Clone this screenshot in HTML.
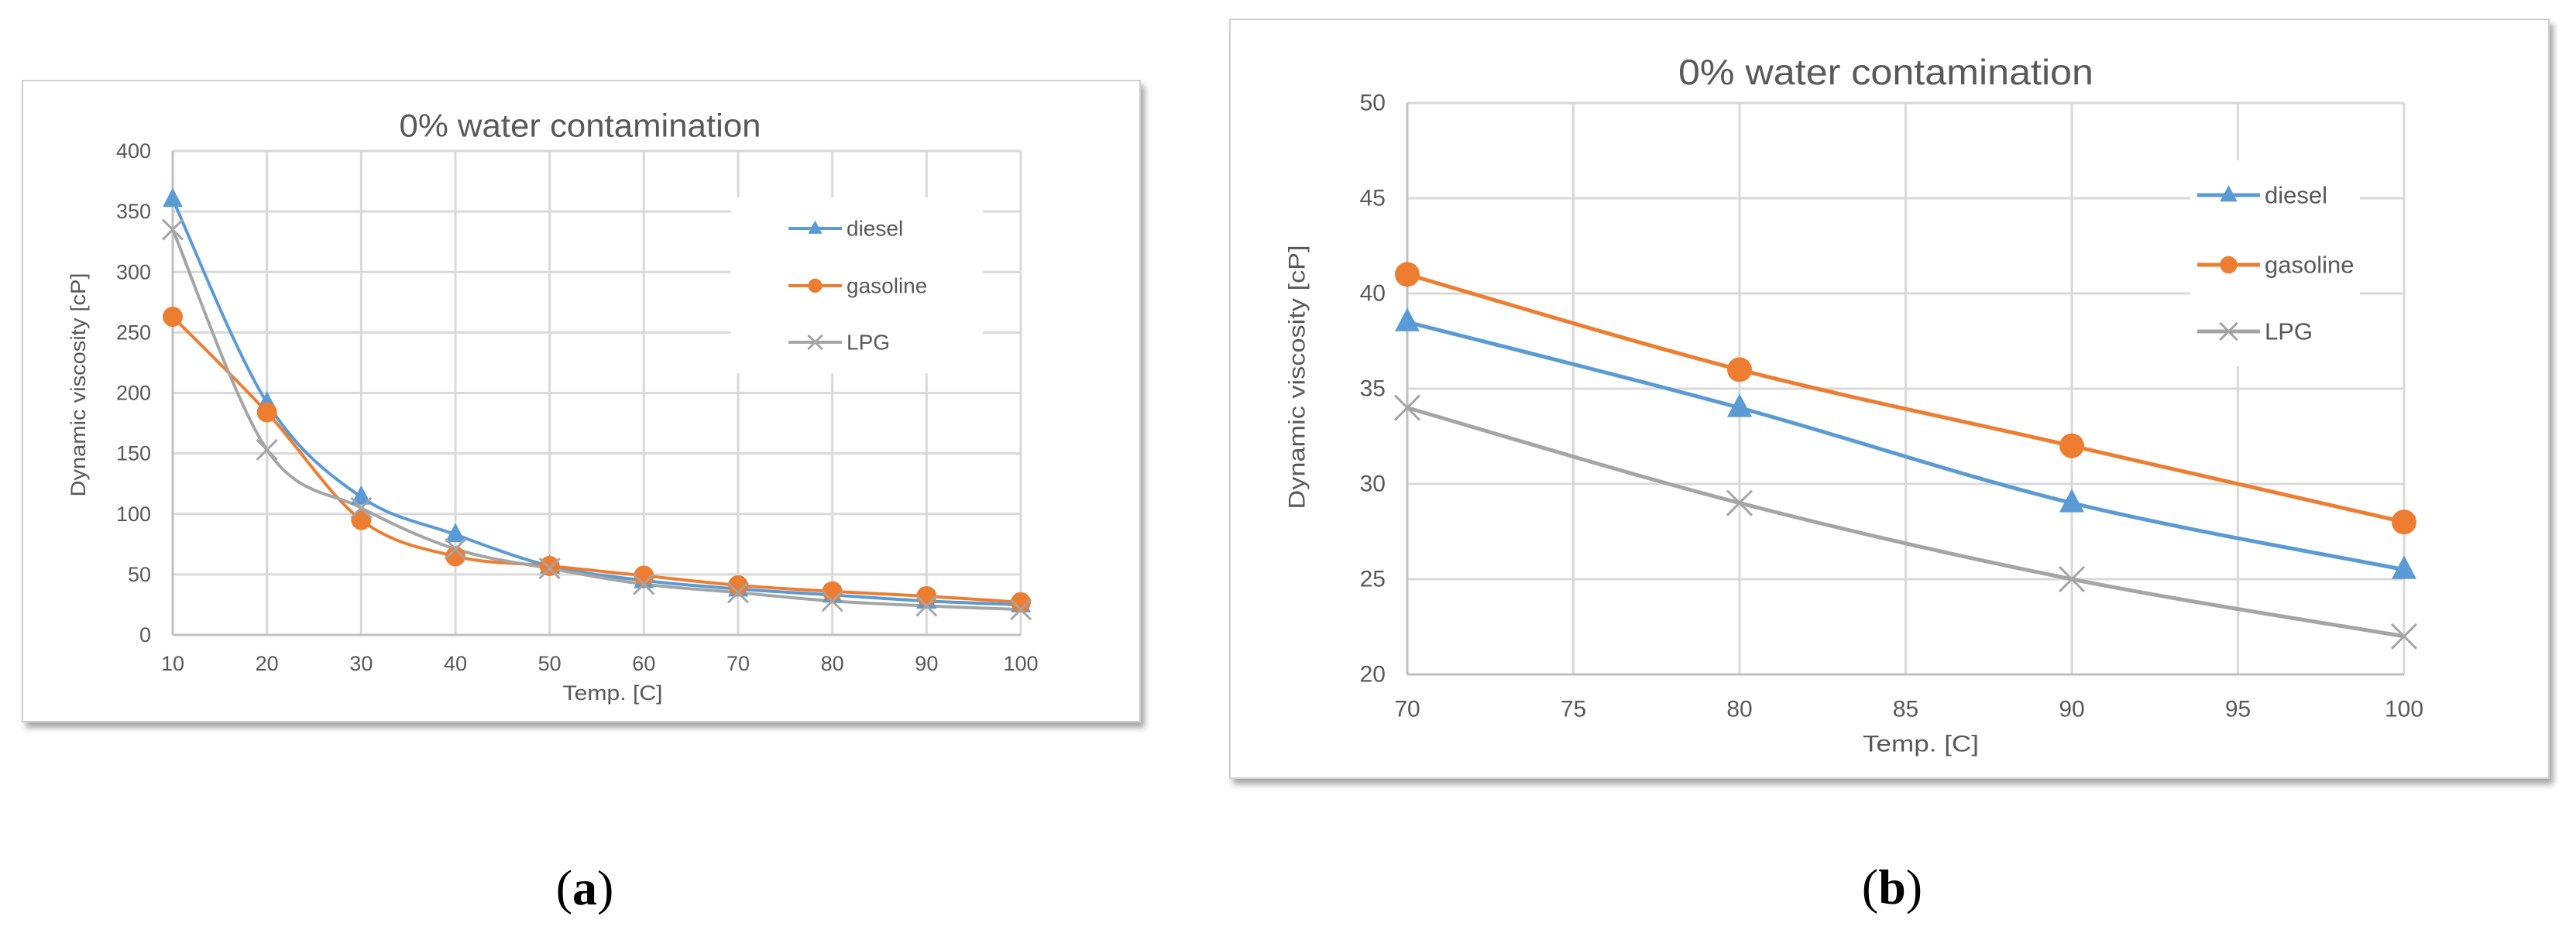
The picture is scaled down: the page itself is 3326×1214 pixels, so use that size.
<!DOCTYPE html>
<html><head><meta charset="utf-8">
<style>
html,body{margin:0;padding:0;background:#fff;}
body{width:3326px;height:1214px;overflow:hidden;position:relative;font-family:"Liberation Sans",sans-serif;}
svg{position:absolute;left:0;top:0;}
</style></head>
<body>
<svg id="fig" width="3326" height="1214" viewBox="0 0 3326 1214" xmlns="http://www.w3.org/2000/svg">
<defs>
<filter id="sh" x="-5%" y="-5%" width="112%" height="115%"><feDropShadow dx="5" dy="7" stdDeviation="4" flood-color="#000" flood-opacity="0.35"/></filter>
</defs>
</svg>
<script>
// ---- Chart (a) data ----
const catsA = [10,20,30,40,50,60,70,80,90,100];
const dieselA = [360,192,114,83,57,45,38,33,28,25];
const gasolineA = [263,184,95,65,57,49,41,36,32,27];
const lpgA = [335,153,105,71,55,42,35,28,24,21];
const yTicksA = [0,50,100,150,200,250,300,350,400];
// ---- Chart (b) data ----
const catsB = [70,80,90,100];
const xTicksB = [70,75,80,85,90,95,100];
const dieselB = [38.5,34,29,25.5];
const gasolineB = [41,36,32,28];
const lpgB = [34,29,25,22];
const yTicksB = [20,25,30,35,40,45,50];

const NS='http://www.w3.org/2000/svg';
const svg=document.getElementById('fig');
function mk(tag,attrs,parent){const e=document.createElementNS(NS,tag);for(const k in attrs)e.setAttribute(k,attrs[k]);(parent||svg).appendChild(e);return e;}
function txt(s,attrs,parent){const e=mk('text',attrs,parent);e.textContent=s;return e;}
const COL={diesel:'#5b9bd5',gasoline:'#ed7d31',lpg:'#a5a5a5'};

function smoothPath(pts){
  let d='M'+pts[0][0]+','+pts[0][1];
  for(let i=0;i<pts.length-1;i++){
    const p0=pts[Math.max(i-1,0)],p1=pts[i],p2=pts[i+1],p3=pts[Math.min(i+2,pts.length-1)];
    const t=1/6;
    const c1=[p1[0]+(p2[0]-p0[0])*t,p1[1]+(p2[1]-p0[1])*t];
    const c2=[p2[0]-(p3[0]-p1[0])*t,p2[1]-(p3[1]-p1[1])*t];
    d+=' C'+c1[0]+','+c1[1]+' '+c2[0]+','+c2[1]+' '+p2[0]+','+p2[1];
  }
  return d;
}
function marker(g,type,x,y,r,color){
  let e;
  if(type==='tri'){e=mk('polygon',{points:(x)+','+(y-r*1.15)+' '+(x-r)+','+(y+r*0.75)+' '+(x+r)+','+(y+r*0.75),fill:color},g);}
  else if(type==='circ'){e=mk('circle',{cx:x,cy:y,r:r,fill:color},g);}
  else {e=mk('path',{d:'M'+(x-r)+','+(y-r)+'L'+(x+r)+','+(y+r)+'M'+(x-r)+','+(y+r)+'L'+(x+r)+','+(y-r),stroke:color,'stroke-width':3,fill:'none'},g);}
  return e;
}

function chart(c){
  const g=mk('g',{});
  
  
  const fr=mk('rect',{x:c.fx,y:c.fy,width:c.fw,height:c.fh,fill:'#fff',stroke:'#d0d0d0','stroke-width':2,filter:'url(#sh)'},g);
  
  
  const X=v=>c.px0+(v-c.xmin)/(c.xmax-c.xmin)*(c.px1-c.px0);
  const Y=v=>c.py0-(v-c.ymin)/(c.ymax-c.ymin)*(c.py0-c.py1);
  // grid
  c.xgrid.forEach(v=>{const l=mk('line',{x1:X(v),x2:X(v),y1:c.py1,y2:c.py0,stroke:'#d9d9d9','stroke-width':3},g);
    });
  c.yticks.forEach(v=>{const l=mk('line',{x1:c.px0,x2:c.px1,y1:Y(v),y2:Y(v),stroke:'#d9d9d9','stroke-width':3},g);
    
    const t=txt(String(v),{x:c.px0-28,y:Y(v),'text-anchor':'end','dominant-baseline':'central','font-size':c.tfs,fill:'#595959'},g);
    });
  const ax=mk('line',{x1:c.px0,x2:c.px1,y1:c.py0,y2:c.py0,stroke:'#bfbfbf','stroke-width':3},g);
  
  const ay=mk('line',{x1:c.px0,x2:c.px0,y1:c.py1,y2:c.py0,stroke:'#bfbfbf','stroke-width':3},g);
  
  c.xticks.forEach(v=>{const t=txt(String(v),{x:X(v),y:c.xty,'text-anchor':'middle','dominant-baseline':'central','font-size':c.tfs,fill:'#595959'},g);
    });
  // legend bg (covers gridlines)
  const lb=mk('rect',{x:c.lx0,y:c.ly0,width:c.lx1-c.lx0,height:c.ly1-c.ly0,fill:'#fff'},g);
  
  // series
  c.series.forEach(s=>{
    const pts=c.cats.map((x,i)=>[X(x),Y(s.vals[i])]);
    const p=mk('path',{d:smoothPath(pts),stroke:s.color,'stroke-width':c.lw,fill:'none'},g);
    
  });
  c.series.forEach(s=>{
    c.cats.forEach((x,i)=>{const m=marker(g,s.mark,X(x),Y(s.vals[i]),c.mr,s.color);
      });
  });
  // legend entries
  c.series.forEach((s,i)=>{
    const ly=c.legY[i];
    const lg=mk('g',{},g);
    
    mk('line',{x1:c.llx0,x2:c.llx1,y1:ly,y2:ly,stroke:s.color,'stroke-width':c.lw},lg);
    marker(lg,s.mark,(c.llx0+c.llx1)/2,ly,c.mr*0.7,s.color);
    txt(s.label,{x:c.llx1+6,y:ly,'dominant-baseline':'central','font-size':c.lfs,fill:'#595959'},lg);
  });
  const ti=txt('0% water contamination',{x:c.tx,y:c.ty,'text-anchor':'middle','dominant-baseline':'central','font-size':c.titfs,fill:'#595959',textLength:c.tw,lengthAdjust:'spacingAndGlyphs'},g);
  
  const xt=txt('Temp. [C]',{x:c.xtx,y:c.xtty,'text-anchor':'middle','dominant-baseline':'central','font-size':c.tfs,fill:'#595959',textLength:c.xtw,lengthAdjust:'spacingAndGlyphs'},g);
  
  const yt=txt('Dynamic viscosity [cP]',{x:0,y:0,'text-anchor':'middle','dominant-baseline':'central','font-size':c.tfs,fill:'#595959',textLength:c.ytw,lengthAdjust:'spacingAndGlyphs',transform:'translate('+c.ytx+','+c.yty+') rotate(-90)'},g);
  
  const cap=txt('(',{x:c.capx,y:c.capy,'text-anchor':'middle','dominant-baseline':'central','font-size':64,fill:'#000','font-family':'Liberation Serif, serif'},svg);
  const b=mk('tspan',{'font-weight':'bold'},cap);b.textContent=c.cap;
  const e=mk('tspan',{},cap);e.textContent=')';
  
}

chart({name:'chart-a',fx:29,fy:104,fw:1443,fh:828,
  px0:223,px1:1318,py0:820,py1:195,xmin:10,xmax:100,ymin:0,ymax:400,
  cats:catsA,xgrid:catsA,xticks:catsA,yticks:yTicksA,xty:857,tfs:27,
  series:[{key:'diesel',label:'diesel',vals:dieselA,color:COL.diesel,mark:'tri'},
          {key:'gasoline',label:'gasoline',vals:gasolineA,color:COL.gasoline,mark:'circ'},
          {key:'lpg',label:'LPG',vals:lpgA,color:COL.lpg,mark:'x'}],
  lw:4,mr:13,lx0:944,lx1:1269,ly0:255,ly1:482,legY:[295,369,442],llx0:1018,llx1:1087,lfs:28,
  tx:749,ty:162,titfs:42,tw:467,xtx:791,xtty:895,xtw:129,ytx:101,yty:497,ytw:289,
  cap:'a',capx:755,capy:1146});

chart({name:'chart-b',fx:1588,fy:25,fw:1703,fh:980,
  px0:1817,px1:3104,py0:871,py1:133,xmin:70,xmax:100,ymin:20,ymax:50,
  cats:catsB,xgrid:xTicksB,xticks:xTicksB,yticks:yTicksB,xty:916,tfs:30,
  series:[{key:'diesel',label:'diesel',vals:dieselB,color:COL.diesel,mark:'tri'},
          {key:'gasoline',label:'gasoline',vals:gasolineB,color:COL.gasoline,mark:'circ'},
          {key:'lpg',label:'LPG',vals:lpgB,color:COL.lpg,mark:'x'}],
  lw:5,mr:16,lx0:2828,lx1:3047,ly0:207,ly1:473,legY:[252,342,428],llx0:2837,llx1:2918,lfs:31,
  tx:2435,ty:93,titfs:46,tw:536,xtx:2480,xtty:961,xtw:150,ytx:1675,yty:487,ytw:341,
  cap:'b',capx:2443,capy:1145});
</script>
</body></html>
